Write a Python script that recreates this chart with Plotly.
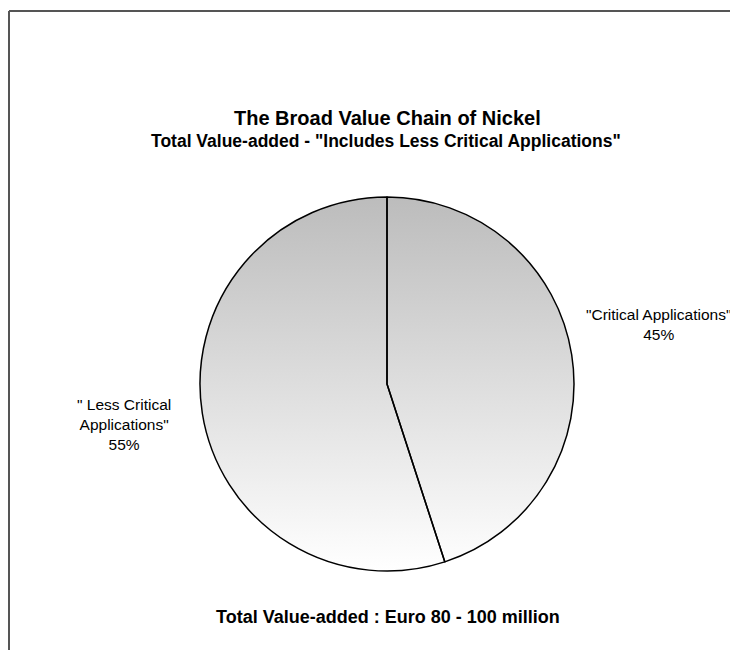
import numpy as np
import plotly.graph_objects as go

# Share of total value-added by application type
categories = ['"Critical Applications"', '" Less Critical<br>Applications"']
shares = [45, 55]
share_labels = ["45%", "55%"]

title = "The Broad Value Chain of Nickel"
subtitle = 'Total Value-added - "Includes Less Critical Applications"'
footer = "Total Value-added : Euro 80 - 100 million"

W, H = 730, 650
cx, cy, r = 387, H - 384, 187  # pie centre / radius in pixels (y measured up)

fig = go.Figure()

# Grey-to-white vertical gradient disc sitting behind the pie slices
theta = np.linspace(0, 2 * np.pi, 361)
fig.add_trace(go.Scatter(
    x=cx + r * np.cos(theta), y=cy + r * np.sin(theta),
    mode="lines", line=dict(width=0, color="rgba(0,0,0,0)"),
    fill="toself",
    fillgradient=dict(type="vertical",
                      colorscale=[[0, "#ffffff"], [1, "#bcbcbc"]]),
    hoverinfo="skip", showlegend=False,
))

# Pie outlines (slices drawn clockwise from 12 o'clock)
fig.add_trace(go.Pie(
    labels=categories, values=shares, sort=False,
    direction="clockwise", rotation=0,
    marker=dict(colors=["rgba(0,0,0,0)"] * len(shares),
                line=dict(color="#000000", width=1.5)),
    textinfo="none", showlegend=False,
    domain=dict(x=[(cx - r) / W, (cx + r) / W], y=[(cy - r) / H, (cy + r) / H]),
))

font = "Arial, Liberation Sans, sans-serif"
label_pos = [(658, 324), (124, 424)]
anns = []
for cat, lab, (lx, ly) in zip(categories, share_labels, label_pos):
    anns.append(dict(x=lx, y=H - ly, xref="x", yref="y", text=f"{cat}<br>{lab}",
                     showarrow=False, align="center",
                     font=dict(family=font, size=15.5, color="#000")))
anns += [
    dict(x=387, y=H - 118, xref="x", yref="y", text=f"<b>{title}</b>", showarrow=False,
         font=dict(family=font, size=20, color="#000")),
    dict(x=386, y=H - 141, xref="x", yref="y", text=f"<b>{subtitle}</b>", showarrow=False,
         font=dict(family=font, size=17.5, color="#000")),
    dict(x=388, y=H - 617, xref="x", yref="y", text=f"<b>{footer}</b>", showarrow=False,
         font=dict(family=font, size=18, color="#000")),
]

fig.update_layout(
    width=W, height=H, margin=dict(l=0, r=0, t=0, b=0),
    paper_bgcolor="#ffffff", plot_bgcolor="#ffffff",
    xaxis=dict(range=[0, W], visible=False, fixedrange=True),
    yaxis=dict(range=[0, H], visible=False, fixedrange=True),
    annotations=anns,
    shapes=[
        dict(type="line", xref="x", yref="y", x0=9, y0=H - 11, x1=W, y1=H - 11,
             line=dict(color="#555555", width=2)),
        dict(type="line", xref="x", yref="y", x0=9, y0=H - 11, x1=9, y1=0,
             line=dict(color="#555555", width=2)),
    ],
)

fig.write_html("out.html")
